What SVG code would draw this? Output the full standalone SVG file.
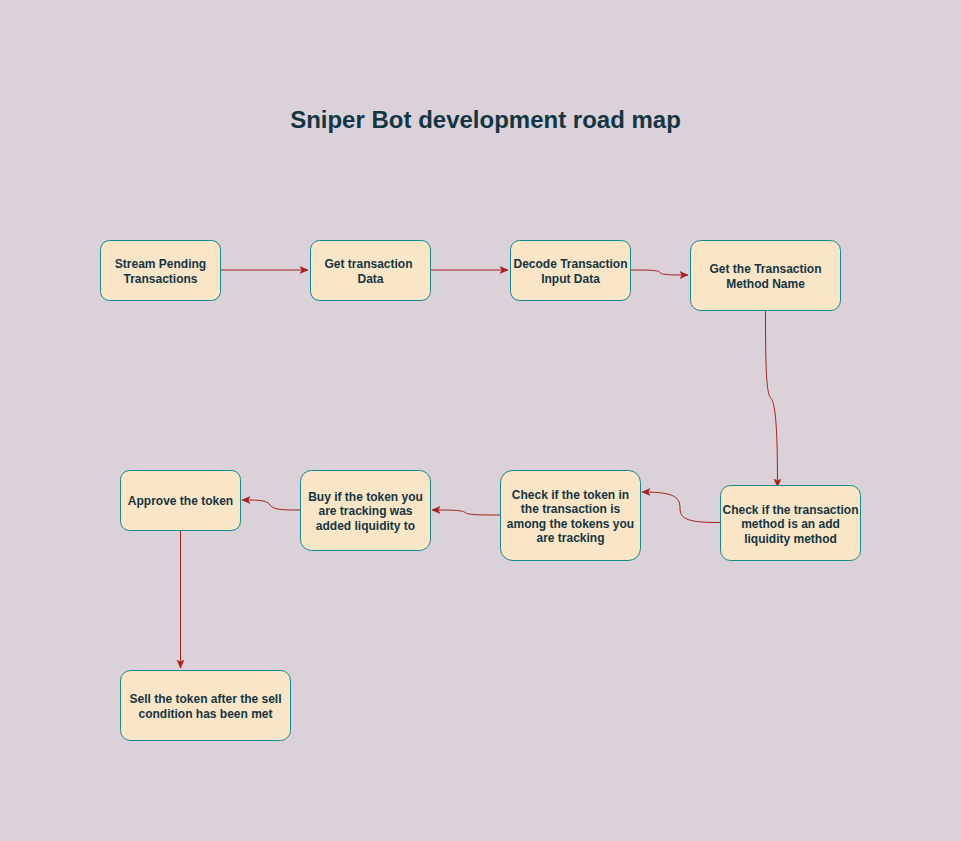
<svg xmlns="http://www.w3.org/2000/svg" width="961" height="841" viewBox="0 0 961 841">
<defs>
<style>
.n rect{fill:#FAE5C7;stroke:#0F8B8D;stroke-width:1}
.n text{font-family:"Liberation Sans",Arial,sans-serif;font-size:12px;font-weight:bold;fill:#143642;text-anchor:middle}
.e path{fill:none;stroke:#A8201A;stroke-width:1}
.t{font-family:"Liberation Sans",Arial,sans-serif;font-size:24px;font-weight:bold;fill:#143642;text-anchor:middle}
</style>
<marker id="a" markerWidth="10" markerHeight="10" refX="8" refY="5" orient="auto" markerUnits="userSpaceOnUse">
<path d="M0,1.5 L8,5 L0,8.5 L2,5 Z" fill="#A8201A" stroke="#A8201A" stroke-width="0.5"/>
</marker>
</defs>
<rect width="961" height="841" fill="#DAD2D8"/>
<text class="t" x="485.5" y="128">Sniper Bot development road map</text>
<g id="edges" class="e">
<path d="M220,270 H308" marker-end="url(#a)"/>
<path d="M430,270 H508" marker-end="url(#a)"/>
<path d="M630,270 C650,270 658,270 660,272.5 C662,275 670,275 688,275" marker-end="url(#a)"/>
<path d="M765.5,310 C765.5,360 766,390 770,397 C775,402 777.5,420 777.5,487" marker-end="url(#a)"/>
<path d="M720,522.5 C690,522.5 680,520 680,508 C680,496 672,492 642,492" marker-end="url(#a)"/>
<path d="M500,515 C480,515 468,515 465,512.5 C462,510 450,510 432,510" marker-end="url(#a)"/>
<path d="M300,510 C285,510 273,510 270,505 C267,500 258,500 242,500" marker-end="url(#a)"/>
<path d="M180.5,530 V668" marker-end="url(#a)"/>
</g>
<g id="n1" class="n"><rect x="100.5" y="240.5" width="120" height="60" rx="9"/><text x="160.5" y="267.5">Stream Pending</text><text x="160.5" y="282.5">Transactions</text></g>
<g id="n2" class="n"><rect x="310.5" y="240.5" width="120" height="60" rx="9"/><text x="368.5" y="267.5">Get transaction</text><text x="370.5" y="282.5">Data</text></g>
<g id="n3" class="n"><rect x="510.5" y="240.5" width="120" height="60" rx="9"/><text x="570.5" y="267.5">Decode Transaction</text><text x="570.5" y="282.5">Input Data</text></g>
<g id="n4" class="n"><rect x="690.5" y="240.5" width="150" height="70" rx="10"/><text x="765.5" y="272.5">Get the Transaction</text><text x="765.5" y="287.5">Method Name</text></g>
<g id="n5" class="n"><rect x="720.5" y="485.5" width="140" height="75" rx="10"/><text x="790.5" y="513.5">Check if the transaction</text><text x="790.5" y="527.5">method is an add</text><text x="790.5" y="542.5">liquidity method</text></g>
<g id="n6" class="n"><rect x="500.5" y="470.5" width="140" height="90" rx="12"/><text x="570.5" y="498.5">Check if the token in</text><text x="570.5" y="512.5">the transaction is</text><text x="570.5" y="527.5">among the tokens you</text><text x="570.5" y="541.5">are tracking</text></g>
<g id="n7" class="n"><rect x="300.5" y="470.5" width="130" height="80" rx="11"/><text x="365.5" y="500.5">Buy if the token you</text><text x="365.5" y="514.5">are tracking was</text><text x="365.5" y="529.5">added liquidity to</text></g>
<g id="n8" class="n"><rect x="120.5" y="470.5" width="120" height="60" rx="9"/><text x="180.5" y="504.5">Approve the token</text></g>
<g id="n9" class="n"><rect x="120.5" y="670.5" width="170" height="70" rx="10"/><text x="205.5" y="702.5">Sell the token after the sell</text><text x="205.5" y="717.5">condition has been met</text></g>
</svg>
